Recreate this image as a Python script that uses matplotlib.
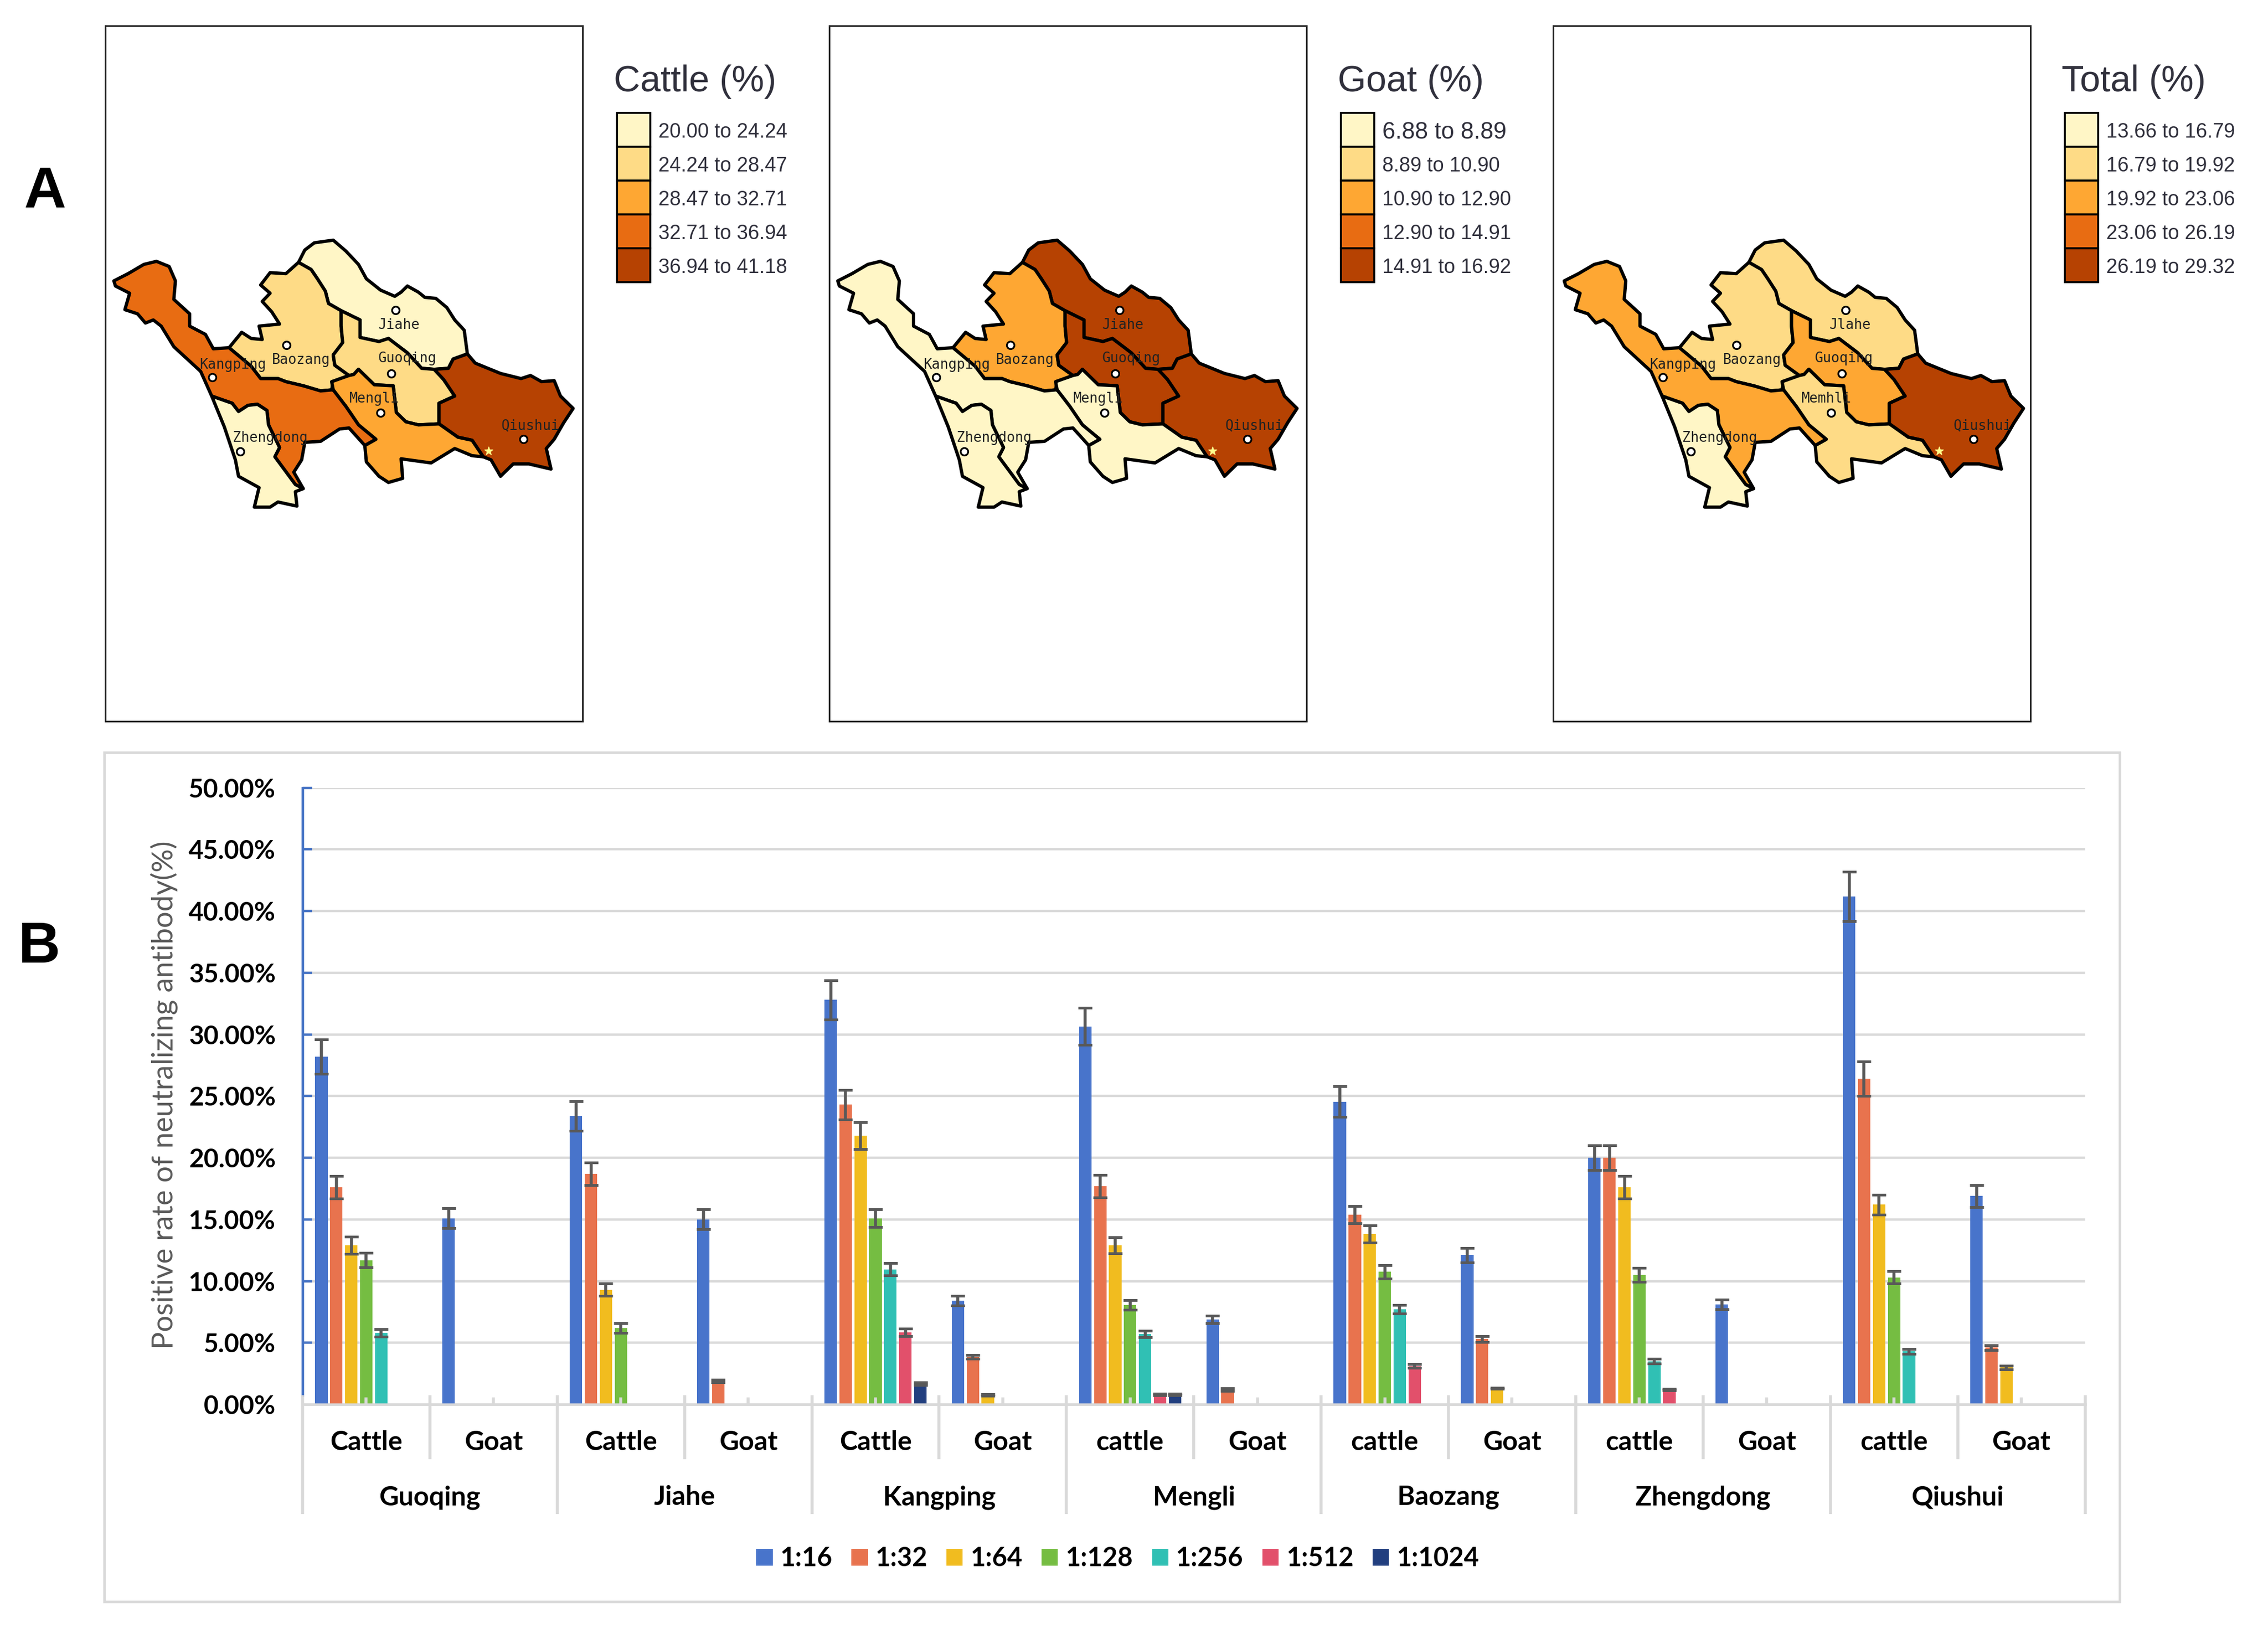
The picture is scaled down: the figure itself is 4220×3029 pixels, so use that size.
#!/usr/bin/env python3
import numpy as np
import matplotlib
matplotlib.use('Agg')
import matplotlib.pyplot as plt
from matplotlib.patches import Polygon, Rectangle

W, H = 4220, 3029

# district outlines
jiahe = [(640, 230), (660, 170), (690, 135), (750, 122), (790, 175), (830, 240), (855, 310), (900, 365),
         (945, 395), (965, 375), (985, 345), (1020, 375), (1040, 400), (1075, 405), (1110, 450), (1135, 510),
         (1165, 560), (1175, 675), (1130, 700), (1115, 745), (1070, 750), (1030, 745), (985, 670), (925, 600),
         (895, 615), (835, 595), (835, 510), (775, 465), (735, 430), (725, 370), (700, 310), (680, 265)]
baozang = [(640, 230), (680, 265), (700, 310), (725, 370), (735, 430), (775, 465), (775, 540), (780, 620),
           (750, 680), (755, 730), (800, 780), (750, 810), (745, 850), (710, 855), (655, 830), (600, 810),
           (575, 795), (520, 795), (490, 735), (420, 645), (460, 570), (490, 600), (525, 605), (515, 540),
           (580, 530), (555, 470), (525, 420), (550, 380), (520, 340), (550, 280), (600, 285)]
guoqing = [(775, 465), (835, 510), (835, 595), (895, 615), (925, 600), (985, 670), (1030, 745), (1070, 750),
           (1100, 800), (1135, 880), (1085, 915), (1085, 1015), (1020, 1020), (980, 1005), (950, 960), (940, 830),
           (880, 825), (830, 750), (815, 775), (800, 780), (755, 730), (750, 680), (780, 620), (775, 540)]
qiushui = [(1175, 675), (1200, 720), (1280, 770), (1345, 795), (1375, 780), (1410, 810), (1450, 805), (1470, 880),
           (1510, 940), (1480, 1010), (1450, 1090), (1425, 1135), (1440, 1235), (1370, 1210), (1320, 1210),
           (1280, 1270), (1250, 1190), (1225, 1175), (1190, 1095), (1145, 1080), (1085, 1015), (1085, 915),
           (1135, 880), (1100, 800), (1070, 750), (1115, 745), (1130, 700)]
mengli = [(800, 780), (815, 775), (830, 750), (880, 825), (940, 830), (950, 960), (980, 1005), (1020, 1020),
          (1085, 1015), (1145, 1080), (1190, 1095), (1225, 1175), (1190, 1170), (1135, 1135), (1060, 1205),
          (965, 1185), (970, 1280), (925, 1300), (895, 1270), (855, 1200), (850, 1120), (885, 1090), (830, 1020),
          (790, 930), (750, 850), (745, 810)]
kangping = [(55, 320), (100, 285), (150, 240), (190, 225), (230, 250), (250, 320), (245, 410), (295, 480),
            (295, 540), (345, 580), (370, 650), (420, 645), (490, 735), (520, 795), (575, 795), (600, 810),
            (655, 830), (710, 855), (745, 850), (750, 850), (790, 930), (830, 1020), (885, 1090), (850, 1120),
            (800, 1035), (770, 1040), (710, 1100), (660, 1105), (650, 1190), (625, 1250), (655, 1330), (630, 1310),
            (565, 1175), (580, 1130), (545, 1020), (540, 950), (510, 920), (480, 925), (450, 955), (430, 915),
            (365, 880), (330, 760), (245, 640), (205, 540), (180, 510), (155, 525), (130, 480), (90, 460),
            (105, 380), (60, 345)]
zhengdong = [(365, 880), (430, 915), (450, 955), (480, 925), (510, 920), (540, 950), (545, 1020), (580, 1130),
             (565, 1175), (630, 1310), (655, 1330), (630, 1345), (635, 1415), (575, 1395), (550, 1420), (500, 1420),
             (515, 1325), (450, 1270), (440, 1190), (405, 1030)]

districts = [jiahe, baozang, guoqing, qiushui, mengli, kangping, zhengdong]
dots_x = [947, 601, 934, 1352, 900, 456, 367]
dots_y = [462, 632, 771, 1088, 962, 1150, 790]
star_x, star_y = 1242, 1148

names = ['Jiahe', 'Baozang', 'Guoqing', 'Qiushui', 'Mengli', 'Zhengdong', 'Kangping']
names_x = [958, 648, 985, 1375, 880, 550, 432]
names_y = [535, 705, 697, 1025, 893, 1083, 730]
names3 = ['Jlahe', 'Baozang', 'Guoqing', 'Qiushui', 'Memhli', 'Zhengdong', 'Kangping']
names3_x = [960, 650, 942, 1380, 885, 548, 430]

# colour class of each district: jiahe, baozang, guoqing, qiushui, mengli, kangping, zhengdong
cattle_class = [0, 1, 1, 4, 2, 3, 0]
goat_class = [4, 2, 4, 4, 0, 0, 0]
total_class = [1, 1, 2, 4, 1, 2, 0]
classes = [cattle_class, goat_class, total_class]
map_colors = ['#FFF6C6', '#FEDB86', '#FEA733', '#E86C12', '#B64202']

map_titles = ['Cattle (%)', 'Goat (%)', 'Total (%)']
cattle_ranges = ['20.00 to 24.24', '24.24 to 28.47', '28.47 to 32.71', '32.71 to 36.94', '36.94 to 41.18']
goat_ranges = ['6.88 to 8.89', '8.89 to 10.90', '10.90 to 12.90', '12.90 to 14.91', '14.91 to 16.92']
total_ranges = ['13.66 to 16.79', '16.79 to 19.92', '19.92 to 23.06', '23.06 to 26.19', '26.19 to 29.32']
ranges = [cattle_ranges, goat_ranges, total_ranges]

# bar chart
towns = ['Guoqing', 'Jiahe', 'Kangping', 'Mengli', 'Baozang', 'Zhengdong', 'Qiushui']
animals = ['Cattle', 'Goat', 'Cattle', 'Goat', 'Cattle', 'Goat', 'cattle', 'Goat',
           'cattle', 'Goat', 'cattle', 'Goat', 'cattle', 'Goat']
titres = ['1:16', '1:32', '1:64', '1:128', '1:256', '1:512', '1:1024']
bar_colors = ['#4874CB', '#E8734E', '#F1BC1F', '#75BD42', '#30C0B4', '#E2506B', '#223F7F']

t16 = [28.2, 15.1, 23.4, 15.0, 32.8, 8.4, 30.65, 6.9, 24.55, 12.1, 20.0, 8.1, 41.2, 16.9]
t32 = [17.6, 0, 18.7, 1.9, 24.3, 3.85, 17.7, 1.2, 15.4, 5.3, 20.0, 0, 26.4, 4.6]
t64 = [12.9, 0, 9.3, 0, 21.8, 0.76, 12.9, 0, 13.8, 1.3, 17.6, 0, 16.2, 3.0]
t128 = [11.7, 0, 6.2, 0, 15.1, 0, 8.05, 0, 10.75, 0, 10.5, 0, 10.3, 0]
t256 = [5.8, 0, 0, 0, 10.95, 0, 5.7, 0, 7.7, 0, 3.5, 0, 4.3, 0]
t512 = [0, 0, 0, 0, 5.85, 0, 0.8, 0, 3.1, 0, 1.2, 0, 0, 0]
t1024 = [0, 0, 0, 0, 1.67, 0, 0.8, 0, 0, 0, 0, 0, 0, 0]
values = [t16, t32, t64, t128, t256, t512, t1024]

e16 = [1.4, 0.8, 1.2, 0.8, 1.6, 0.4, 1.5, 0.3, 1.25, 0.6, 1.0, 0.4, 2.0, 0.9]
e32 = [0.9, 0, 0.9, 0.1, 1.2, 0.15, 0.9, 0.1, 0.7, 0.25, 1.0, 0, 1.4, 0.2]
e64 = [0.7, 0, 0.5, 0, 1.1, 0.05, 0.65, 0, 0.7, 0.05, 0.9, 0, 0.8, 0.15]
e128 = [0.6, 0, 0.4, 0, 0.7, 0, 0.4, 0, 0.55, 0, 0.55, 0, 0.5, 0]
e256 = [0.3, 0, 0, 0, 0.5, 0, 0.25, 0, 0.35, 0, 0.2, 0, 0.2, 0]
e512 = [0, 0, 0, 0, 0.3, 0, 0.05, 0, 0.15, 0, 0.05, 0, 0, 0]
e1024 = [0, 0, 0, 0, 0.1, 0, 0.05, 0, 0, 0, 0, 0, 0, 0]
errors = [e16, e32, e64, e128, e256, e512, e1024]

y_ticks = [0, 5, 10, 15, 20, 25, 30, 35, 40, 45, 50]
y_labels = ['0.00%', '5.00%', '10.00%', '15.00%', '20.00%', '25.00%', '30.00%', '35.00%', '40.00%', '45.00%', '50.00%']

plt.rcParams['font.family'] = ['Lato', 'DejaVu Sans']
fig = plt.figure(figsize=(W / 100, H / 100), dpi=100)


def px_axes(left, top, right, bottom):
    return fig.add_axes([left / W, 1 - bottom / H, (right - left) / W, (bottom - top) / H])


def fx(x):
    return x / W


def fy(y):
    return 1 - y / H


# three maps
map_left = 196
map_step = 1347
map_shift = [0, 0, 8]
for m in range(3):
    off = m * map_step
    ax = px_axes(map_left + off, 48, 1084 + off, 1342)
    ax.set_xlim(28 - map_shift[m], 1540 - map_shift[m])
    ax.set_ylim(2461, -920)
    ax.set_xticks([])
    ax.set_yticks([])
    for s in ax.spines.values():
        s.set_linewidth(2.2)
        s.set_color('#222222')
    for poly, c in zip(districts, classes[m]):
        ax.add_patch(Polygon(poly, closed=True, facecolor=map_colors[c], edgecolor='black',
                             linewidth=4.4, joinstyle='round'))
    ax.scatter(dots_x, dots_y, s=100, facecolor='white', edgecolor='black', linewidth=2.4, zorder=4)
    ax.scatter([star_x], [star_y], s=130, marker='*', color='#FFFF8C', zorder=4)
    lab = names3 if m == 2 else names
    lab_x = names3_x if m == 2 else names_x
    for n, x, y in zip(lab, lab_x, names_y):
        ax.text(x, y, n, family='DejaVu Sans Mono', fontsize=18.5, color='#222222',
                ha='center', va='center', zorder=5)

    # map legend
    fig.text(fx(1142 + off), fy(170), map_titles[m], family='Liberation Sans', fontsize=49,
             color='#30303c', va='baseline')
    for i in range(5):
        top = 210 + i * 63
        fig.add_artist(Rectangle((fx(1148 + off), fy(top + 63)), 62 / W, 63 / H, transform=fig.transFigure,
                                 facecolor=map_colors[i], edgecolor='black', linewidth=2.6))
        size = 31.5 if ranges[m][i] == '6.88 to 8.89' else 27
        fig.text(fx(1225 + off), fy(top + 36), ranges[m][i], family='Liberation Sans', fontsize=size,
                 color='#30303c', va='center')

# panel B frame
fig.add_artist(Rectangle((fx(194), fy(2980)), 3750 / W, 1580 / H, transform=fig.transFigure,
                         facecolor='none', edgecolor='#D9D9D9', linewidth=3.4))

fig.text(fx(83), fy(358), 'A', family='Liberation Sans', fontweight='bold', fontsize=78, ha='center', va='center')
fig.text(fx(73), fy(1763), 'B', family='Liberation Sans', fontweight='bold', fontsize=78, ha='center', va='center')

# bar chart
ax = px_axes(563, 1465.7, 3879.5, 2613)
ax.set_xlim(0, 14)
ax.set_ylim(0, 50)
ax.set_facecolor('none')
ax.yaxis.grid(True, color='#D9D9D9', linewidth=3.2)
ax.set_axisbelow(True)
for s in ['top', 'right']:
    ax.spines[s].set_visible(False)
ax.spines['bottom'].set_color('#D9D9D9')
ax.spines['bottom'].set_linewidth(3.4)
ax.spines['left'].set_color('#4472C4')
ax.spines['left'].set_linewidth(3.4)
ax.spines['left'].set_bounds(0.74, 50)

x = np.arange(14) + 0.5
pitch = 0.1175
width = 0.098
handles = []
for k in range(7):
    pos = x + (k - 3) * pitch
    val = np.array(values[k])
    err = np.array(errors[k])
    bars = ax.bar(pos, val, width, color=bar_colors[k], label=titres[k], zorder=2)
    handles.append(bars)
    keep = val > 0
    ax.errorbar(pos[keep], val[keep], yerr=err[keep], fmt='none', ecolor='#595959', elinewidth=4,
                capsize=9.7, capthick=3.6, zorder=3)

ax.set_yticks(y_ticks)
ax.set_yticklabels(y_labels, fontsize=34.5, fontweight='bold', color='black')
ax.tick_params(axis='y', direction='in', length=13, width=3.2, color='#4472C4', pad=36)
ax.yaxis.get_major_ticks()[0].tick1line.set_visible(False)
ax.set_xticks([])

# category separators and labels below the axis
trans = ax.get_xaxis_transform()
span = 2613 - 1465.7


def below(y):
    return (2613 - y) / span


ax.vlines(np.arange(0, 15, 2), below(2596), below(2817), transform=trans, color='#D9D9D9',
          linewidth=4, clip_on=False, zorder=4)
ax.vlines(np.arange(1, 14, 2), below(2596), below(2715), transform=trans, color='#D9D9D9',
          linewidth=4, clip_on=False, zorder=4)
ax.vlines(x, below(2600), 0, transform=trans, color='#D9D9D9', linewidth=4, clip_on=False, zorder=4)
for xx, a in zip(x, animals):
    ax.text(xx, below(2684), a, transform=trans, fontsize=36, fontweight='bold', ha='center', va='center')
for i, t in enumerate(towns):
    ax.text(2 * i + 1, below(2786), t, transform=trans, fontsize=36, fontweight='bold', ha='center', va='center')

fig.text(fx(305), fy(2037), 'Positive rate of neutralizing antibody(%)', rotation=90, fontsize=39,
         color='#595959', ha='center', va='center')

fig.legend(handles=handles, labels=titres, ncol=7, frameon=False, loc='center',
           bbox_to_anchor=(fx(2080), fy(2900)), prop={'size': 35, 'weight': 'bold'},
           handlelength=0.62, handleheight=0.62, handletextpad=0.3, columnspacing=0.72, borderpad=0)

fig.savefig('out.png', dpi=100, facecolor='white')
